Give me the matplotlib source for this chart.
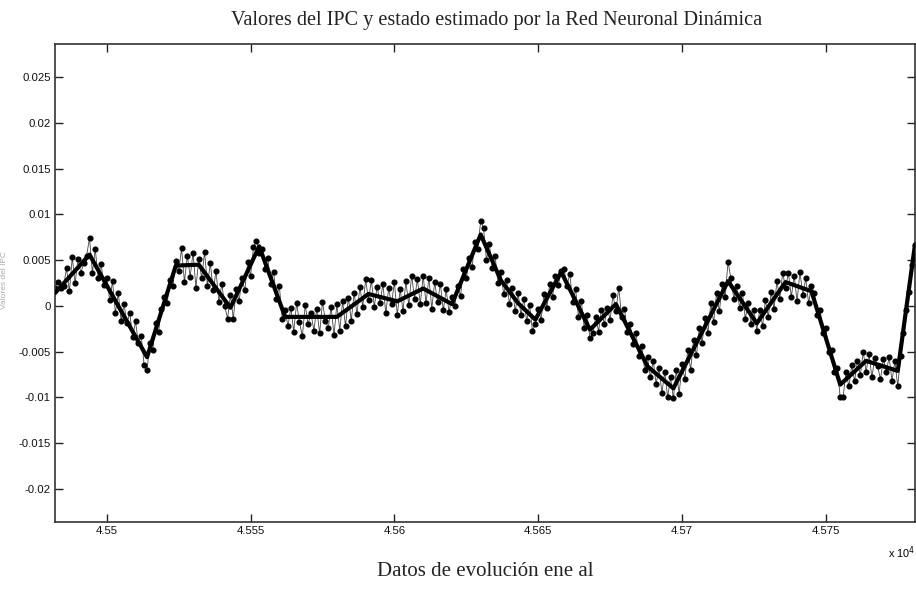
import numpy as np
import matplotlib
matplotlib.use("Agg")
import matplotlib.pyplot as plt

plt.rcParams['axes.unicode_minus'] = False

# ---------------- data ----------------
x_first = 45482
x_last = 45781

# observed IPC values (units of 1e-4), one per x from 45482 to 45781
ipc_e4 = [
    20, 26, 19, 22, 41, 16, 53, 25, 51, 36,
    47, 55, 74, 36, 62, 30, 46, 23, 31, 6,
    27, -8, 14, -16, 2, -19, -8, -34, -17, -41,
    -33, -65, -70, -40, -48, -19, -29, -3, 10, 3,
    28, 22, 49, 38, 63, 26, 55, 32, 58, 20,
    51, 30, 59, 22, 47, 17, 38, 4, 24, 0,
    -14, 12, -14, 18, 5, 30, 17, 48, 33, 64,
    71, 58, 62, 40, 52, 24, 37, 8, 22, -14,
    -5, -22, -2, -28, 3, -18, -33, 1, -20, -8,
    -27, -3, -30, 4, -16, -24, -1, -32, 2, -27,
    5, -22, 9, -16, 14, -9, 21, -1, 29, 6,
    28, -1, 21, 3, 24, -8, 19, 2, 26, -10,
    18, -6, 27, 1, 33, 8, 29, 2, 33, 3,
    31, -3, 26, 4, 24, -5, 18, -7, 10, 0,
    22, 11, 40, 30, 52, 42, 70, 62, 93, 85,
    50, 68, 41, 55, 25, 37, 13, 28, 2, 20,
    -6, 14, -10, 8, -17, 1, -27, -20, -3, -15,
    13, -2, 24, 10, 33, 23, 38, 40, 22, 35,
    4, 18, -12, 5, -24, -10, -35, -30, -12, -28,
    -4, -20, -2, -15, 12, -6, 20, -12, -3, -28,
    -20, -42, -30, -55, -44, -70, -56, -78, -60, -85,
    -68, -95, -72, -100, -78, -101, -70, -96, -64, -80,
    -48, -70, -37, -54, -24, -40, -13, -30, 3, -18,
    14, -6, 24, 10, 48, 30, 8, 22, -2, 14,
    -14, 3, -20, -4, -27, -5, -22, 6, -12, 15,
    -3, 27, 8, 36, 20, 36, 10, 33, 5, 37,
    12, 30, 3, 22, 14, -10, -4, -30, -24, -50,
    -48, -72, -68, -100, -100, -72, -88, -65, -82, -60,
    -76, -50, -72, -52, -78, -57, -66, -80, -58, -72,
    -56, -82, -60, -88, -55, -30, -5, 15, 45, 67,
]

# estimated state from the dynamic neural network (vertices of the thick line)
est_x = [45482, 45494, 45514, 45524, 45532, 45543, 45553, 45562, 45580,
         45591, 45601, 45610, 45620, 45630, 45637, 45643, 45649, 45658,
         45668, 45677, 45688, 45697, 45716, 45726, 45736, 45745, 45755,
         45764, 45775, 45781]
est_e4 = [14, 56, -56, 44, 45, -2, 65, -12, -12,
          13, 5, 19, 2, 78, 28, 3, -15, 37,
          -26, 2, -66, -90, 27, -19, 26, 16, -86,
          -60, -71, 67]

xtick_vals = [45500, 45550, 45600, 45650, 45700, 45750]
xtick_labels = ['4.55', '4.555', '4.56', '4.565', '4.57', '4.575']
ytick_vals = [0.025, 0.02, 0.015, 0.01, 0.005, 0.0, -0.005, -0.01, -0.015, -0.02]
ytick_labels = ['0.025', '0.02', '0.015', '0.01', '0.005', '0',
                '-0.005', '-0.01', '-0.015', '-0.02']

title = 'Valores del IPC y estado estimado por la Red Neuronal Dinámica'
xlabel = 'Datos de evolución ene al'
ylabel = 'Valores del IPC'

# ---------------- plot ----------------
x = np.arange(x_first, x_last + 1)
ipc = np.array(ipc_e4) * 1e-4
est = np.array(est_e4) * 1e-4

fig = plt.figure(figsize=(9.16, 5.92), dpi=100)
ax = fig.add_axes([55 / 916, 70 / 592, 860 / 916, 478 / 592])

ax.plot(x, ipc, color='#444444', lw=0.6, marker='o', ms=3.4,
        mfc='black', mec='black', zorder=2)
ax.plot(est_x, est, color='black', lw=3.0, solid_joinstyle='round',
        solid_capstyle='round', zorder=3)

ax.set_xlim(45482, 45781)
ax.set_ylim(-0.0236, 0.0286)

tick_font = dict(family=['Liberation Sans', 'DejaVu Sans'], size=8.2)
ax.set_xticks(xtick_vals)
ax.set_xticklabels(xtick_labels, fontdict=tick_font)
ax.set_yticks(ytick_vals)
ax.set_yticklabels(ytick_labels, fontdict=tick_font)
ax.tick_params(direction='in', length=6, width=1, top=True, right=True,
               color='#222222', pad=3, labelcolor='#111111')

for s in ax.spines.values():
    s.set_linewidth(1.2)
    s.set_color('#333333')

serif = ['Liberation Serif', 'DejaVu Serif']
fig.text(497 / 916, 1 - 20 / 592, title, ha='center', va='center',
         fontsize=14.6, family=serif, color='#222222')
fig.text(485 / 916, 1 - 571 / 592, xlabel, ha='center', va='center',
         fontsize=15, family=serif, color='#222222')
fig.text(902 / 916, 1 - 553 / 592, r'x 10$^{4}$', ha='center', va='center',
         fontsize=7.8, family=['Liberation Sans', 'DejaVu Sans'])
fig.text(1 / 916, 1 - 280 / 592, ylabel, ha='left', va='center',
         rotation=90, fontsize=6, color='#aaaaaa',
         family=['Liberation Sans', 'DejaVu Sans'])

fig.savefig('out.png', dpi=100)
